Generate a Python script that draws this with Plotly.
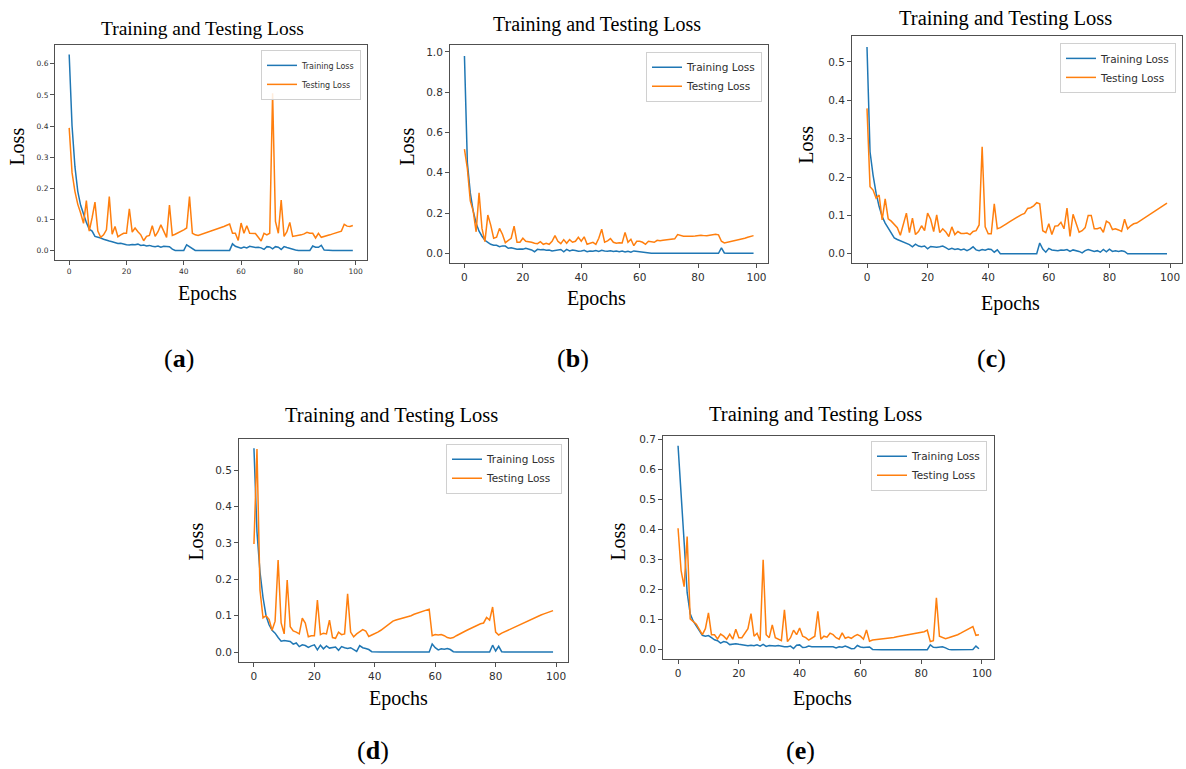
import plotly.graph_objects as go

epochs = list(range(100))

# (a)
train_a = [0.63, 0.40, 0.27, 0.19, 0.145, 0.115, 0.09, 0.068, 0.062, 0.045,
           0.043, 0.040, 0.036, 0.032, 0.030, 0.028, 0.024, 0.022, 0.023, 0.020,
           0.018, 0.017, 0.019, 0.018, 0.020, 0.016, 0.017, 0.014, 0.016, 0.013,
           0.012, 0.014, 0.010, 0.013, 0.012, 0.012, 0.004, 0.0, 0.0, 0.0,
           0.0, 0.018, 0.012, 0.006, 0.0, 0.0, 0.0, 0.0, 0.0, 0.0,
           0.0, 0.0, 0.0, 0.0, 0.0, 0.0, 0.0, 0.021, 0.013, 0.010,
           0.007, 0.011, 0.008, 0.013, 0.010, 0.009, 0.010, 0.008, 0.003, 0.012,
           0.011, 0.005, 0.012, 0.010, 0.003, 0.012, 0.009, 0.006, 0.003, 0.001,
           0.0, 0.0, 0.0, 0.0, 0.0, 0.014, 0.010, 0.010, 0.016, 0.001,
           0.0, 0.0, 0.0, 0.0, 0.0, 0.0, 0.0, 0.0, 0.0, 0.0]
test_a = [0.394, 0.25, 0.19, 0.148, 0.12, 0.087, 0.16, 0.062, 0.105, 0.155,
          0.062, 0.042, 0.05, 0.066, 0.173, 0.052, 0.077, 0.044, 0.05, 0.055,
          0.055, 0.134, 0.059, 0.072, 0.06, 0.05, 0.031, 0.045, 0.048, 0.079,
          0.045, 0.06, 0.082, 0.061, 0.042, 0.146, 0.048, 0.052, 0.056, 0.06,
          0.066, 0.072, 0.173, 0.055, 0.05, 0.048, 0.051, 0.054, 0.057, 0.060,
          0.063, 0.066, 0.07, 0.073, 0.077, 0.081, 0.085, 0.055, 0.055, 0.032,
          0.088, 0.055, 0.079, 0.055, 0.055, 0.054, 0.042, 0.03, 0.055, 0.05,
          0.055, 0.505, 0.093, 0.055, 0.162, 0.045, 0.06, 0.09, 0.045, 0.046,
          0.048, 0.05, 0.053, 0.058, 0.055, 0.055, 0.04, 0.055, 0.042, 0.044,
          0.047, 0.05, 0.053, 0.056, 0.06, 0.062, 0.084, 0.078, 0.077, 0.08]

# (b)
train_b = [0.98, 0.45, 0.30, 0.21, 0.15, 0.11, 0.085, 0.065, 0.055, 0.045,
           0.04, 0.04, 0.033, 0.037, 0.036, 0.025, 0.028, 0.022, 0.02, 0.022,
           0.021, 0.025, 0.022, 0.017, 0.008, 0.02, 0.018, 0.019, 0.015, 0.017,
           0.012, 0.014, 0.016, 0.019, 0.008, 0.02, 0.012, 0.016, 0.014, 0.01,
           0.012, 0.015, 0.008, 0.012, 0.01, 0.014, 0.009, 0.015, 0.012, 0.01,
           0.013, 0.009, 0.012, 0.008, 0.011, 0.007, 0.01, 0.006, 0.012, 0.01,
           0.008, 0.005, 0.001, 0.0, 0.0, 0.0, 0.0, 0.0, 0.0, 0.0,
           0.0, 0.0, 0.0, 0.0, 0.0, 0.0, 0.0, 0.0, 0.0, 0.0,
           0.0, 0.0, 0.0, 0.0, 0.0, 0.0, 0.0, 0.0, 0.027, 0.002,
           0.0, 0.0, 0.0, 0.0, 0.0, 0.0, 0.0, 0.0, 0.0, 0.0]
test_b = [0.517, 0.42, 0.26, 0.21, 0.107, 0.30, 0.124, 0.058, 0.19, 0.14,
          0.075, 0.08, 0.124, 0.095, 0.053, 0.065, 0.075, 0.135, 0.055, 0.055,
          0.075, 0.06, 0.058, 0.055, 0.05, 0.048, 0.058, 0.045, 0.05, 0.045,
          0.06, 0.088, 0.06, 0.048, 0.068, 0.05, 0.068, 0.055, 0.06, 0.08,
          0.06, 0.082, 0.045, 0.05, 0.055, 0.045, 0.075, 0.12, 0.055, 0.062,
          0.073, 0.055, 0.05, 0.053, 0.052, 0.104, 0.055, 0.07, 0.038, 0.06,
          0.06, 0.055, 0.045, 0.06, 0.058, 0.055, 0.065, 0.063, 0.065, 0.067,
          0.068, 0.07, 0.072, 0.093, 0.088, 0.085, 0.085, 0.084, 0.085, 0.086,
          0.088, 0.09, 0.088, 0.087, 0.09, 0.093, 0.095, 0.092, 0.06, 0.052,
          0.055, 0.058, 0.06, 0.063, 0.067, 0.07, 0.075, 0.08, 0.085, 0.088]

# (c)
train_c = [0.539, 0.266, 0.205, 0.158, 0.123, 0.097, 0.08, 0.067, 0.054, 0.041,
           0.037, 0.034, 0.029, 0.026, 0.024, 0.018, 0.025, 0.02, 0.018, 0.02,
           0.013, 0.019, 0.018, 0.017, 0.018, 0.02, 0.016, 0.011, 0.014, 0.011,
           0.013, 0.01, 0.012, 0.008, 0.012, 0.018, 0.01, 0.008, 0.011, 0.009,
           0.012, 0.011, 0.004, 0.01, 0.0, 0.0, 0.0, 0.0, 0.0, 0.0,
           0.0, 0.0, 0.0, 0.0, 0.0, 0.0, 0.0, 0.028, 0.012, 0.004,
           0.014, 0.01, 0.008, 0.008, 0.01, 0.009, 0.011, 0.006, 0.01, 0.008,
           0.006, 0.002, 0.008, 0.011, 0.009, 0.006, 0.008, 0.004, 0.011, 0.005,
           0.012, 0.006, 0.008, 0.006, 0.008, 0.006, 0.0, 0.0, 0.0, 0.0,
           0.0, 0.0, 0.0, 0.0, 0.0, 0.0, 0.0, 0.0, 0.0, 0.0]
test_c = [0.379, 0.175, 0.166, 0.145, 0.153, 0.088, 0.143, 0.091, 0.085, 0.075,
          0.068, 0.048, 0.075, 0.106, 0.055, 0.093, 0.05, 0.058, 0.073, 0.06,
          0.106, 0.09, 0.058, 0.101, 0.055, 0.065, 0.057, 0.045, 0.07, 0.05,
          0.058, 0.053, 0.053, 0.054, 0.05, 0.058, 0.06, 0.075, 0.279, 0.07,
          0.052, 0.052, 0.13, 0.065, 0.068, 0.072, 0.078, 0.083, 0.088, 0.092,
          0.097, 0.102, 0.105, 0.118, 0.12, 0.125, 0.133, 0.13, 0.06, 0.055,
          0.078, 0.05, 0.072, 0.073, 0.082, 0.065, 0.119, 0.045, 0.103, 0.078,
          0.056, 0.06, 0.068, 0.1, 0.1, 0.065, 0.065, 0.068, 0.056, 0.085,
          0.08, 0.063, 0.065, 0.062, 0.058, 0.09, 0.065, 0.073, 0.078, 0.08,
          0.085, 0.09, 0.095, 0.1, 0.105, 0.11, 0.115, 0.12, 0.126, 0.132]

# (d)
train_d = [0.56, 0.33, 0.22, 0.15, 0.10, 0.075, 0.06, 0.052, 0.04, 0.03,
           0.032, 0.03, 0.029, 0.022, 0.025, 0.015, 0.02, 0.018, 0.013, 0.017,
           0.02, 0.006, 0.019, 0.009, 0.017, 0.011, 0.013, 0.014, 0.005, 0.015,
           0.012, 0.01, 0.012, 0.008, 0.002, 0.018, 0.012, 0.01, 0.007, 0.001,
           0.0, 0.0, 0.0, 0.0, 0.0, 0.0, 0.0, 0.0, 0.0, 0.0,
           0.0, 0.0, 0.0, 0.0, 0.0, 0.0, 0.0, 0.0, 0.0, 0.022,
           0.012, 0.006, 0.009, 0.008, 0.01, 0.007, 0.001, 0.0, 0.0, 0.0,
           0.0, 0.0, 0.0, 0.0, 0.0, 0.0, 0.0, 0.0, 0.0, 0.019,
           0.003, 0.016, 0.001, 0.0, 0.0, 0.0, 0.0, 0.0, 0.0, 0.0,
           0.0, 0.0, 0.0, 0.0, 0.0, 0.0, 0.0, 0.0, 0.0, 0.0]
test_d = [0.297, 0.558, 0.17, 0.094, 0.1, 0.09, 0.06, 0.085, 0.253, 0.08,
          0.05, 0.198, 0.07, 0.058, 0.055, 0.05, 0.093, 0.08, 0.042, 0.045,
          0.045, 0.143, 0.048, 0.052, 0.05, 0.088, 0.04, 0.038, 0.055, 0.048,
          0.05, 0.16, 0.055, 0.042, 0.05, 0.055, 0.062, 0.058, 0.043, 0.047,
          0.05, 0.055, 0.06, 0.066, 0.072, 0.08, 0.085, 0.088, 0.09, 0.094,
          0.096, 0.098, 0.1, 0.104, 0.107, 0.11, 0.112, 0.115, 0.118, 0.045,
          0.048, 0.047, 0.048, 0.045, 0.04, 0.038, 0.04, 0.045, 0.05, 0.053,
          0.058, 0.062, 0.066, 0.07, 0.075, 0.078, 0.08, 0.095, 0.088, 0.124,
          0.055, 0.047, 0.052, 0.056, 0.06, 0.064, 0.068, 0.072, 0.076, 0.08,
          0.084, 0.088, 0.092, 0.095, 0.098, 0.102, 0.105, 0.108, 0.111, 0.114]

# (e)
train_e = [0.68, 0.50, 0.36, 0.19, 0.12, 0.095, 0.078, 0.062, 0.048, 0.045,
           0.047, 0.04, 0.033, 0.03, 0.022, 0.027, 0.025, 0.017, 0.018, 0.02,
           0.018, 0.016, 0.015, 0.013, 0.015, 0.013, 0.016, 0.012, 0.018, 0.011,
           0.014, 0.013, 0.012, 0.014, 0.011, 0.01, 0.01, 0.012, 0.004, 0.015,
           0.016, 0.007, 0.008, 0.012, 0.01, 0.01, 0.01, 0.011, 0.009, 0.011,
           0.009, 0.01, 0.006, 0.01, 0.008, 0.012, 0.008, 0.003, 0.004, 0.014,
           0.009, 0.007, 0.008, 0.009, 0.001, 0.0, 0.0, 0.0, 0.0, 0.0,
           0.0, 0.0, 0.0, 0.0, 0.0, 0.0, 0.0, 0.0, 0.0, 0.0,
           0.0, 0.0, 0.0, 0.016, 0.008, 0.007, 0.008, 0.01, 0.006, 0.001,
           0.0, 0.0, 0.0, 0.0, 0.0, 0.0, 0.0, 0.001, 0.012, 0.003]
test_e = [0.405, 0.264, 0.21, 0.377, 0.103, 0.095, 0.085, 0.068, 0.05, 0.07,
          0.123, 0.05, 0.05, 0.036, 0.052, 0.045, 0.035, 0.052, 0.035, 0.068,
          0.04, 0.04, 0.055, 0.07, 0.12, 0.045, 0.055, 0.03, 0.30, 0.05,
          0.04, 0.083, 0.04, 0.035, 0.03, 0.133, 0.027, 0.04, 0.065, 0.05,
          0.072, 0.045, 0.04, 0.032, 0.04, 0.045, 0.128, 0.035, 0.045, 0.042,
          0.055, 0.05, 0.04, 0.035, 0.056, 0.038, 0.042, 0.038, 0.045, 0.05,
          0.045, 0.035, 0.066, 0.028, 0.032, 0.033, 0.034, 0.035, 0.036, 0.037,
          0.039, 0.041, 0.043, 0.045, 0.047, 0.049, 0.051, 0.053, 0.055, 0.057,
          0.058, 0.06, 0.065, 0.027, 0.03, 0.173, 0.045, 0.04, 0.037, 0.04,
          0.043, 0.047, 0.05, 0.055, 0.06, 0.065, 0.072, 0.077, 0.048, 0.05]

for s in [train_a, test_a, train_b, test_b, train_c, test_c, train_d, test_d, train_e, test_e]:
    assert len(s) == 100, len(s)

BLUE = '#1f77b4'
ORANGE = '#ff7f0e'
SERIF = 'Liberation Serif'
SANS = 'DejaVu Sans'
W, H = 1186, 769


def px(x):
    return x / W


def py(y):
    return 1 - y / H


# pixel boxes (left, top, right, bottom) and text spots
panels = [
    dict(tag='a', train=train_a, test=test_a, box=(55, 43, 367, 259), yr=[-0.032, 0.661], dt=0.1,
         tick=7.5, leg=8, legpos=(361, 48), title=(202, 27), tsize=19.5,
         loss=(17, 145), ep=(207, 292), lab=(179, 357)),
    dict(tag='b', train=train_b, test=test_b, box=(450, 43, 768, 262), yr=[-0.0495, 1.035], dt=0.2,
         tick=10.5, leg=10.5, legpos=(762, 50), title=(597, 23), tsize=20,
         loss=(407, 145), ep=(596, 297), lab=(573, 357)),
    dict(tag='c', train=train_c, test=test_c, box=(852, 34, 1182, 262), yr=[-0.025, 0.568], dt=0.1,
         tick=10.5, leg=10.5, legpos=(1176, 41), title=(1005, 17), tsize=20.5,
         loss=(806, 143), ep=(1010, 302), lab=(991, 357)),
    dict(tag='d', train=train_d, test=test_d, box=(239, 438, 568, 662), yr=[-0.028, 0.586], dt=0.1,
         tick=10.5, leg=10.5, legpos=(562, 443), title=(392, 415), tsize=20.5,
         loss=(196, 541), ep=(398, 698), lab=(373, 750)),
    dict(tag='e', train=train_e, test=test_e, box=(663, 435, 994, 659), yr=[-0.032, 0.713], dt=0.1,
         tick=10.5, leg=10.5, legpos=(987, 440), title=(815, 414), tsize=20.5,
         loss=(618, 541), ep=(822, 698), lab=(800, 750)),
]

fig = go.Figure()
layout = dict(
    width=W, height=H,
    margin=dict(l=0, r=0, t=0, b=0),
    paper_bgcolor='white', plot_bgcolor='white',
    annotations=[],
)


def text(t, x, y, size, angle=0):
    return dict(text=t, x=px(x), y=py(y), xref='paper', yref='paper',
                xanchor='center', yanchor='middle', showarrow=False, textangle=angle,
                font=dict(family=SERIF, size=size, color='black'))


for i, p in enumerate(panels):
    n = '' if i == 0 else str(i + 1)
    leg = 'legend' + n
    l, t, r, b = p['box']
    fig.add_trace(go.Scatter(x=epochs, y=p['train'], mode='lines', name='Training Loss',
                             line=dict(color=BLUE, width=1.5), xaxis='x' + n, yaxis='y' + n, legend=leg))
    fig.add_trace(go.Scatter(x=epochs, y=p['test'], mode='lines', name='Testing Loss',
                             line=dict(color=ORANGE, width=1.5), xaxis='x' + n, yaxis='y' + n, legend=leg))
    ax = dict(showgrid=False, zeroline=False, showline=True, mirror=True,
              linecolor='#505050', linewidth=1, ticks='outside', ticklen=4,
              tickcolor='#505050', tickfont=dict(family=SANS, size=p['tick'], color='#303030'))
    layout['xaxis' + n] = dict(ax, domain=[px(l), px(r)], anchor='y' + n,
                               range=[-4.95, 103.95], tick0=0, dtick=20)
    layout['yaxis' + n] = dict(ax, domain=[py(b), py(t)], anchor='x' + n,
                               range=p['yr'], tick0=0, dtick=p['dt'], tickformat='.1f')
    lx, ly = p['legpos']
    layout[leg] = dict(x=px(lx), y=py(ly), xanchor='right', yanchor='top',
                       bgcolor='rgba(255,255,255,0.85)', bordercolor='#d0d0d0', borderwidth=1,
                       font=dict(family=SANS, size=p['leg'], color='#303030'),
                       itemwidth=30, tracegroupgap=0)
    layout['annotations'] += [
        text('Training and Testing Loss', *p['title'], p['tsize']),
        text('Loss', *p['loss'], 20, angle=-90),
        text('Epochs', *p['ep'], 20),
        text('(<b>%s</b>)' % p['tag'], *p['lab'], 26),
    ]

fig.update_layout(**layout)
# the page body has an 8px default margin; drop it so the figure fills the window
fig.write_html("out.html", config={'displayModeBar': False},
               post_script="document.body.style.margin='0';")
